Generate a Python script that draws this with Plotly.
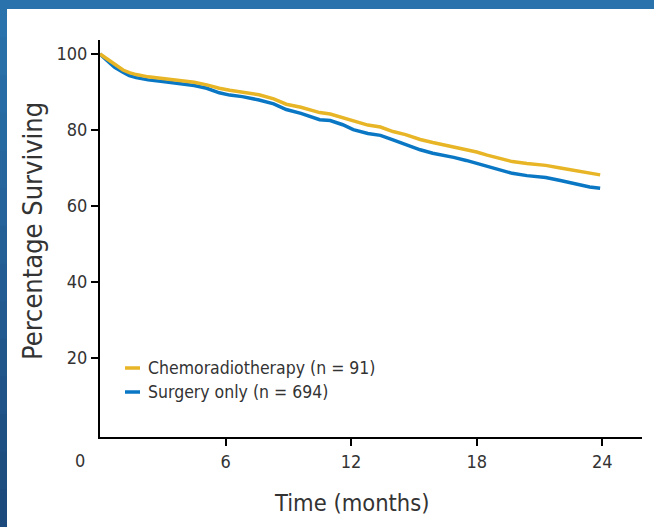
import plotly.graph_objects as go

# ---- data ----
chemo_t = [0, 0.2, 0.45, 0.7, 1.1, 1.4, 1.73, 2.3, 3.0, 3.5, 4.2, 4.5, 5.1, 5.7, 6.2, 6.8, 7.6, 8.3, 8.9, 9.6,
           10.5, 11.0, 11.6, 12.1, 12.8, 13.4, 14.0, 14.6, 15.3, 15.9, 16.5, 16.9, 17.5, 18.0, 18.5, 19.2,
           19.7, 20.4, 21.3, 22.0, 22.8, 23.4, 23.9]
chemo_v = [100, 99.2, 98.2, 97.2, 95.8, 95.1, 94.6, 94.0, 93.6, 93.4, 92.9, 92.6, 91.9, 91.0, 90.5, 90.0, 89.3,
           88.2, 86.8, 86.0, 84.6, 84.2, 83.2, 82.3, 81.3, 80.8, 79.6, 78.8, 77.5, 76.7, 76.0, 75.4, 74.8,
           74.2, 73.4, 72.4, 71.7, 71.2, 70.7, 70.0, 69.2, 68.6, 68.2]
surg_t = [0, 0.2, 0.45, 0.7, 1.1, 1.4, 1.73, 2.3, 3.0, 3.5, 4.2, 4.5, 5.1, 5.7, 6.2, 6.8, 7.6, 8.3, 8.9, 9.6,
          10.5, 11.0, 11.6, 12.1, 12.8, 13.4, 14.0, 14.6, 15.3, 15.9, 16.5, 16.9, 17.5, 18.0, 18.5, 19.2,
          19.7, 20.4, 21.3, 22.0, 22.8, 23.4, 23.9]
surg_v = [100, 99.0, 97.5, 96.5, 95.2, 94.3, 93.8, 93.2, 92.8, 92.5, 92.0, 91.7, 91.0, 89.8, 89.2, 88.8, 87.9,
          86.9, 85.4, 84.4, 82.7, 82.5, 81.4, 80.1, 79.1, 78.6, 77.4, 76.1, 74.8, 73.9, 73.3, 72.8, 72.0,
          71.2, 70.6, 69.3, 68.6, 68.0, 67.5, 66.7, 65.8, 65.0, 64.7]
series_names = ["Chemoradiotherapy (n = 91)", "Surgery only (n = 694)"]
series_colors = ["#E7B525", "#0A77C4"]
x_ticks = [6, 12, 18, 24]
y_ticks = [20, 40, 60, 80, 100]

FONT = "Liberation Sans Narrow, DejaVu Sans Condensed, Arial Narrow, sans-serif"

W, H = 654, 527
L, R, T, B = 100, 642, 40, 437   # plot area in pixels


def px(x):
    return (x - L) / (R - L)


def py(y):
    return (B - y) / (B - T)


fig = go.Figure()
fig.add_trace(go.Scatter(x=surg_t, y=surg_v, mode="lines", line=dict(color=series_colors[1], width=3.5),
                         name=series_names[1], showlegend=False))
fig.add_trace(go.Scatter(x=chemo_t, y=chemo_v, mode="lines", line=dict(color=series_colors[0], width=3.5),
                         name=series_names[0], showlegend=False))

shapes = []
# slide frame: top band
shapes.append(dict(type="rect", xref="paper", yref="paper", x0=px(0), x1=px(W), y0=py(9), y1=py(0),
                   fillcolor="#2A72AC", line=dict(width=0), layer="above"))
# left band with vertical gradient
n = 14
c0 = (0x2A, 0x72, 0xAC)
c1 = (0x1D, 0x4A, 0x7C)
for i in range(n):
    f = i / (n - 1)
    c = tuple(int(round(c0[k] + (c1[k] - c0[k]) * f)) for k in range(3))
    y0 = i * H / n
    y1 = (i + 1) * H / n + 1
    shapes.append(dict(type="rect", xref="paper", yref="paper", x0=px(0), x1=px(7), y0=py(y1), y1=py(y0),
                       fillcolor="rgb(%d,%d,%d)" % c, line=dict(width=0), layer="above"))

annotations = []
# legend (manual)
leg_y = [368, 392]
for i, (nm, col) in enumerate(zip(series_names, series_colors)):
    shapes.append(dict(type="line", xref="paper", yref="paper", x0=px(125), x1=px(140), y0=py(leg_y[i]), y1=py(leg_y[i]),
                       line=dict(color=col, width=3.5)))
    annotations.append(dict(x=px(146), y=py(leg_y[i]), xref="paper", yref="paper", text=nm, showarrow=False,
                            xanchor="left", yanchor="middle", font=dict(family=FONT, size=17.5, color="#333333")))

# origin label
annotations.append(dict(x=px(80), y=py(460), xref="paper", yref="paper", text="0", showarrow=False,
                        xanchor="center", yanchor="middle", font=dict(family=FONT, size=18, color="#333333")))
# axis titles
annotations.append(dict(x=px(33), y=py(231), xref="paper", yref="paper", text="Percentage Surviving", showarrow=False,
                        textangle=-90, xanchor="center", yanchor="middle", font=dict(family=FONT, size=27, color="#333333")))
annotations.append(dict(x=px(352), y=py(503), xref="paper", yref="paper", text="Time (months)", showarrow=False,
                        xanchor="center", yanchor="middle", font=dict(family=FONT, size=23.5, color="#333333")))

fig.update_layout(
    width=W, height=H,
    margin=dict(l=L, r=W - R, t=T, b=H - B, pad=0),
    paper_bgcolor="white", plot_bgcolor="white",
    shapes=shapes, annotations=annotations,
    showlegend=False,
    xaxis=dict(range=[0, 25.9], tickvals=x_ticks, ticktext=[str(v) for v in x_ticks], showgrid=False, zeroline=False,
               showline=True, linecolor="black", linewidth=2, ticks="outside", ticklen=7, tickwidth=1.5,
               tickcolor="black", tickfont=dict(family=FONT, size=18, color="#333333")),
    yaxis=dict(range=[-0.8, 103.7], tickvals=y_ticks, ticktext=[str(v) for v in y_ticks], showgrid=False,
               zeroline=False, showline=True, linecolor="black", linewidth=2, ticks="outside", ticklen=7,
               tickwidth=1.5, tickcolor="black", tickfont=dict(family=FONT, size=18, color="#333333")),
)

fig.write_html("out.html")
